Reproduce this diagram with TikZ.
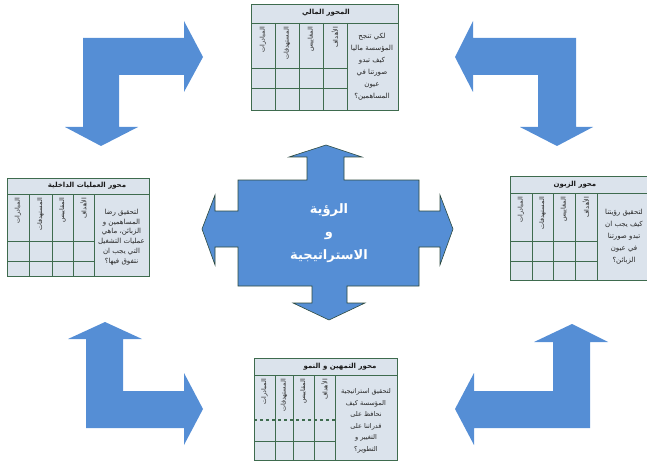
\documentclass[tikz,border=0pt]{standalone}
\usepackage{fontspec}
\newfontfamily\arabicfont[Script=Arabic]{DejaVu Sans}
\TeXXeTstate=1
\definecolor{arrowblue}{HTML}{558ED5}
\definecolor{boxfill}{HTML}{DBE3EC}
\definecolor{boxline}{HTML}{3E6B4E}
\definecolor{crossline}{HTML}{2E4A3E}
\newcommand{\rtl}[1]{\beginR #1\endR}
\tikzset{
  boxframe/.style={draw=boxline, fill=boxfill, line width=0.9pt},
  gridline/.style={draw=boxline, line width=0.6pt},
  coltext/.style={font=\arabicfont\fontsize{6.4}{7}\selectfont, rotate=90, anchor=east, inner sep=0pt, text=black!85},
  bodytext/.style={font=\arabicfont\fontsize{7}{12}\selectfont, align=center, text=black!85, inner sep=0pt},
  titletext/.style={font=\arabicfont\bfseries\fontsize{7}{8}\selectfont, text=black!90, inner sep=0pt},
}
\begin{document}
\begin{tikzpicture}[x=1pt,y=-1pt]

    \clip (0,0) rectangle (647,465);
    % الأسهم الزاوية
    \fill[arrowblue] (83,38) -- (184,38) -- (184,21) -- (203,57) -- (184,92) -- (184,75) -- (119,75) -- (119,127)
        -- (138,127) -- (101,146) -- (65,127) -- (83,127) -- cycle; % أعلى يسار
    \fill[arrowblue] (576,38) -- (473,38) -- (473,21) -- (455,57) -- (473,92) -- (473,75) -- (538,75) -- (538,127)
        -- (520,127) -- (557,146) -- (593,127) -- (576,127) -- cycle; % أعلى يمين
    \fill[arrowblue] (86,428) -- (184,428) -- (184,445) -- (203,409) -- (184,373) -- (184,391) -- (123,391) -- (123,339)
        -- (142,339) -- (105,322) -- (68,339) -- (86,339) -- cycle; % أسفل يسار
    \fill[arrowblue] (590,428) -- (474,428) -- (474,445) -- (455,409) -- (474,373) -- (474,391) -- (553,391) -- (553,342)
        -- (534,342) -- (572,324) -- (608,342) -- (590,342) -- cycle; % أسفل يمين

    % الشكل المركزي
    \filldraw[fill=arrowblue, draw=crossline, line width=0.6pt]
        (238,180) -- (307,180) -- (307,157) -- (289,157) -- (326,145) -- (362,157) -- (344,157) -- (344,180)
        -- (419,180) -- (419,211) -- (440,211) -- (440,195) -- (453,229) -- (440,265) -- (440,247) -- (419,247)
        -- (419,286) -- (347,286) -- (347,303) -- (365,303) -- (329,320) -- (293,303) -- (312,303) -- (312,286)
        -- (238,286) -- (238,247) -- (215,247) -- (215,265) -- (202,229) -- (215,195) -- (215,211) -- (238,211) -- cycle;
    \node[font=\arabicfont\bfseries\fontsize{13}{23}\selectfont, text=white, align=center] (vision) at (329,233)
        {\rtl{الرؤية}\\\rtl{و}\\\rtl{الاستراتيجية}};

    % المحور المالي
    \draw[boxframe] (251,4) rectangle (398,110);
    \draw[gridline] (251,23) -- (398,23);
    \draw[gridline] (347,23) -- (347,110);
    \foreach \x in {275,299,323} \draw[gridline] (\x,23) -- (\x,110);
    \draw[gridline] (251,68) -- (347,68);
    \draw[gridline] (251,88) -- (347,88);
    \node[titletext] (fintitle) at (326,13) {\rtl{المحور المالي}};
    \node[coltext] (fin1) at (263,27) {\rtl{المبادرات}};
    \node[coltext] (fin2) at (287,27) {\rtl{المستهدفات}};
    \node[coltext] (fin3) at (311,27) {\rtl{المقاييس}};
    \node[coltext] (fin4) at (335,27) {\rtl{الأهداف}};
    \node[bodytext] (fintext) at (372,67) {\rtl{لكي تنجح}\\\rtl{المؤسسة ماليا}\\\rtl{كيف تبدو}\\\rtl{صورتنا في}\\\rtl{عيون}\\\rtl{المساهمين؟}};

    % محور العمليات الداخلية
    \draw[boxframe] (7,178) rectangle (149,276);
    \draw[gridline] (7,194) -- (149,194);
    \draw[gridline] (94,194) -- (94,276);
    \foreach \x in {29,52,73} \draw[gridline] (\x,194) -- (\x,276);
    \draw[gridline] (7,241) -- (94,241);
    \draw[gridline] (7,261) -- (94,261);
    \node[titletext] (opstitle) at (87,186) {\rtl{محور العمليات الداخلية}};
    \node[coltext] (ops1) at (18,198) {\rtl{المبادرات}};
    \node[coltext] (ops2) at (40.5,198) {\rtl{المستهدفات}};
    \node[coltext] (ops3) at (62.5,198) {\rtl{المقاييس}};
    \node[coltext] (ops4) at (83.5,198) {\rtl{الأهداف}};
    \node[bodytext, font=\arabicfont\fontsize{7}{9.8}\selectfont] (opstext) at (121.5,237)
        {\rtl{لتحقيق رضا}\\\rtl{المساهمين و}\\\rtl{الزبائن، ماهي}\\\rtl{عمليات التشغيل}\\\rtl{التي يجب ان}\\\rtl{نتفوق فيها؟}};

    % محور الزبون
    \draw[boxframe] (510,176) rectangle (660,280);
    \draw[gridline] (510,193) -- (660,193);
    \draw[gridline] (597,193) -- (597,280);
    \foreach \x in {532,553,575} \draw[gridline] (\x,193) -- (\x,280);
    \draw[gridline] (510,241) -- (597,241);
    \draw[gridline] (510,261) -- (597,261);
    \node[titletext] (custtitle) at (575,185) {\rtl{محور الزبون}};
    \node[coltext] (cust1) at (521,197) {\rtl{المبادرات}};
    \node[coltext] (cust2) at (542.5,197) {\rtl{المستهدفات}};
    \node[coltext] (cust3) at (564,197) {\rtl{المقاييس}};
    \node[coltext] (cust4) at (586,197) {\rtl{الأهداف}};
    \node[bodytext] (custtext) at (624,237) {\rtl{لتحقيق رؤيتنا}\\\rtl{كيف يجب ان}\\\rtl{تبدو صورتنا}\\\rtl{في عيون}\\\rtl{الزبائن؟}};

    % محور التمهين و النمو
    \draw[boxframe] (254,358) rectangle (397,460);
    \draw[gridline] (254,375) -- (397,375);
    \draw[gridline] (335,375) -- (335,460);
    \foreach \x in {275,293,314} \draw[gridline] (\x,375) -- (\x,460);
    \draw[gridline, dashed, line width=1.3pt] (254,420) -- (335,420);
    \draw[gridline] (254,441) -- (335,441);
    \node[titletext] (growtitle) at (340,367) {\rtl{محور التمهين و النمو}};
    \node[coltext] (grow1) at (264.5,379) {\rtl{المبادرات}};
    \node[coltext] (grow2) at (284,379) {\rtl{المستهدفات}};
    \node[coltext] (grow3) at (303.5,379) {\rtl{المقاييس}};
    \node[coltext] (grow4) at (324.5,379) {\rtl{الأهداف}};
    \node[bodytext, font=\arabicfont\fontsize{6.6}{11.5}\selectfont] (growtext) at (366,421)
        {\rtl{لتحقيق استراتيجية}\\\rtl{المؤسسة كيف}\\\rtl{نحافظ على}\\\rtl{قدراتنا على}\\\rtl{التغيير و}\\\rtl{التطوير؟}};
\end{tikzpicture}
\end{document}
